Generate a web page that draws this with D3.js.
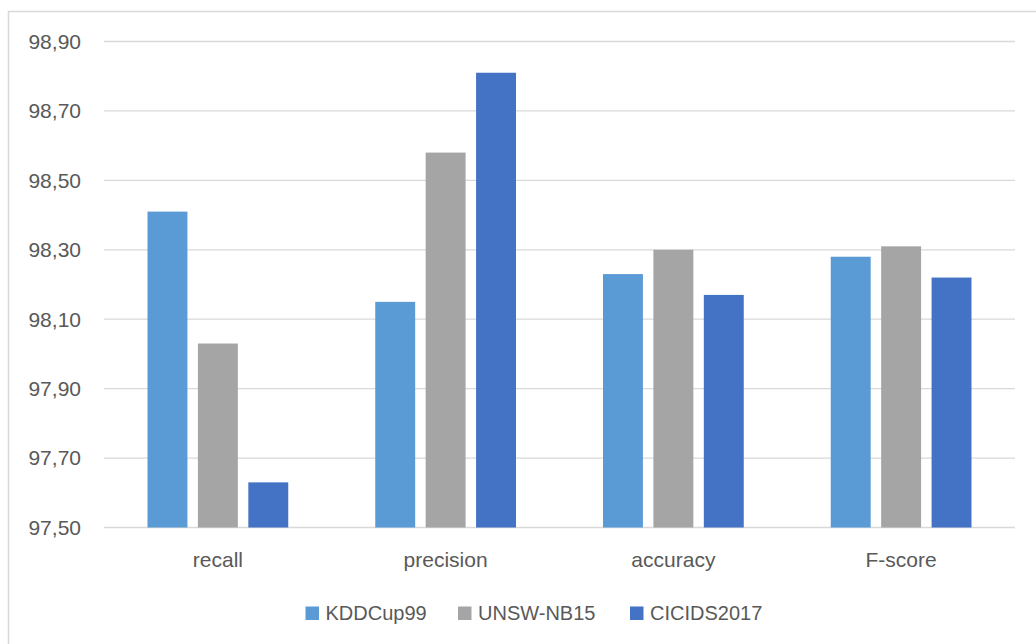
<!DOCTYPE html>
<html>
<head>
<meta charset="utf-8">
<script src="https://cdn.jsdelivr.net/npm/d3@7"></script>
<style>
  html, body { margin: 0; padding: 0; background: #ffffff; }
  svg { display: block; }
  text { font-family: "Liberation Sans", Arial, sans-serif; fill: #595959; }
</style>
</head>
<body>
<svg id="chart" width="1036" height="644"></svg>
<script>
// Metrics (%) per dataset
const categories = ["recall", "precision", "accuracy", "F-score"];
const seriesNames = ["KDDCup99", "UNSW-NB15", "CICIDS2017"];
const kddcup99 = [98.41, 98.15, 98.23, 98.28];
const unswNb15 = [98.03, 98.58, 98.30, 98.31];
const cicids2017 = [97.63, 98.81, 98.17, 98.22];
const yTicks = [97.5, 97.7, 97.9, 98.1, 98.3, 98.5, 98.7, 98.9];
const colors = ["#5B9BD5", "#A5A5A5", "#4472C4"];

const seriesValues = [kddcup99, unswNb15, cicids2017];

const svg = d3.select("#chart");
const plot = { left: 104, right: 1015, top: 41.5, bottom: 527.5 };

// Outer frame (only top and left edges fall inside the view)
svg.append("path")
  .attr("d", "M8.5,644 L8.5,11.5 L1036,11.5")
  .attr("fill", "none")
  .attr("stroke", "#D9D9D9")
  .attr("stroke-width", 1.5);

const y = d3.scaleLinear().domain([97.5, 98.9]).range([plot.bottom, plot.top]);
const x0 = d3.scaleBand().domain(categories).range([plot.left, plot.right])
  .paddingInner(0.382).paddingOuter(0.191);
const x1 = d3.scaleBand().domain(seriesNames).range([0, x0.bandwidth()])
  .paddingInner(0.208).paddingOuter(0);

// Horizontal gridlines
svg.append("g").selectAll("line").data(yTicks).join("line")
  .attr("x1", plot.left).attr("x2", plot.right)
  .attr("y1", d => y(d)).attr("y2", d => y(d))
  .attr("stroke", "#D9D9D9").attr("stroke-width", 1.3);

// Y axis labels with decimal comma
const fmt = d => d3.format(".2f")(d).replace(".", ",");
svg.append("g").selectAll("text").data(yTicks).join("text")
  .attr("x", 81).attr("y", d => y(d))
  .attr("dy", "0.35em")
  .attr("text-anchor", "end")
  .style("font-size", "21px")
  .text(fmt);

// Bars
const groups = svg.append("g").selectAll("g").data(categories).join("g")
  .attr("transform", c => `translate(${x0(c)},0)`);
groups.selectAll("rect")
  .data((c, ci) => seriesNames.map((s, si) => ({ s, si, v: seriesValues[si][ci] })))
  .join("rect")
  .attr("x", d => x1(d.s))
  .attr("width", x1.bandwidth())
  .attr("y", d => y(d.v))
  .attr("height", d => y(97.5) - y(d.v))
  .attr("fill", d => colors[d.si]);

// Category labels
svg.append("g").selectAll("text").data(categories).join("text")
  .attr("x", c => x0(c) + x0.bandwidth() / 2)
  .attr("y", 567)
  .attr("text-anchor", "middle")
  .style("font-size", "21px")
  .text(c => c);

// Legend
const legendX = [305.5, 458, 630];
const legend = svg.append("g").selectAll("g").data(seriesNames).join("g")
  .attr("transform", (d, i) => `translate(${legendX[i]},606.5)`);
legend.append("rect")
  .attr("width", 13.5).attr("height", 13.5)
  .attr("fill", (d, i) => colors[i]);
legend.append("text")
  .attr("x", 20).attr("y", 6.75).attr("dy", "0.35em")
  .style("font-size", "20px")
  .text(d => d);
</script>
</body>
</html>
